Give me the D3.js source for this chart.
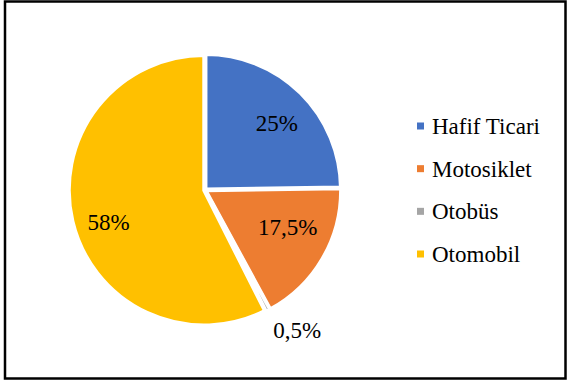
<!DOCTYPE html>
<html>
<head>
<meta charset="utf-8">
<script src="https://cdn.jsdelivr.net/npm/d3@7"></script>
<style>
  body { margin: 0; background: #fff; }
</style>
</head>
<body>
<div id="chart"></div>
<script>
//-- Data --//
var categories = ["Hafif Ticari", "Motosiklet", "Otobüs", "Otomobil"];
var shares = [25, 17.5, 0.5, 58];
var shareLabels = ["25%", "17,5%", "0,5%", "58%"];
var colors = ["#4472C4", "#ED7D31", "#A5A5A5", "#FFC000"];

//-- Setup --//
var width = 567, height = 380;
var cx = 205, cy = 190, radius = 135;
var serif = "Liberation Serif";
// small shifts off the centroid, like the "best fit" label placement
var labelNudge = [[3, 3], [-2, -13], [18, -2], [-1, 9]];

var svg = d3.select("#chart").append("svg")
  .attr("width", width)
  .attr("height", height);

// outer frame
svg.append("rect")
  .attr("x", 5).attr("y", 1.5)
  .attr("width", 560.5).attr("height", 377)
  .attr("fill", "none")
  .attr("stroke", "#000")
  .attr("stroke-width", 2.5);

var data = categories.map(function(c, i) {
  return {name: c, value: shares[i], label: shareLabels[i], color: colors[i], idx: i};
});

var pie = d3.pie().sort(null).value(function(d) { return d.value; });
var arcs = pie(data);

var arc = d3.arc().innerRadius(0).outerRadius(radius);
var labelArc = d3.arc().innerRadius(98).outerRadius(98);
var outerLabelArc = d3.arc().innerRadius(160).outerRadius(160);

var g = svg.append("g")
  .attr("transform", "translate(" + cx + "," + cy + ")");

//-- Slices --//
g.selectAll("path.slice")
  .data(arcs)
  .enter().append("path")
  .attr("class", "slice")
  .attr("d", arc)
  .attr("transform", function(d) {
    var a = (d.startAngle + d.endAngle) / 2;
    return "translate(" + (Math.sin(a) * 1) + "," + (-Math.cos(a) * 1) + ")";
  })
  .attr("fill", function(d) { return d.data.color; })
  .attr("stroke", "#fff")
  .attr("stroke-width", 3.5)
  .attr("stroke-linejoin", "miter");

//-- Labels --//
g.selectAll("text.pct")
  .data(arcs)
  .enter().append("text")
  .attr("class", "pct")
  .attr("transform", function(d) {
    var p = (d.data.value < 2) ? outerLabelArc.centroid(d) : labelArc.centroid(d);
    var n = labelNudge[d.data.idx];
    return "translate(" + (p[0] + n[0]) + "," + (p[1] + n[1]) + ")";
  })
  .attr("text-anchor", "middle")
  .attr("dy", "0.35em")
  .attr("font-family", serif)
  .attr("font-size", 23)
  .attr("fill", "#000")
  .text(function(d) { return d.data.label; });

//-- Legend --//
var legendY = d3.scalePoint().domain(categories).range([126, 254]);

var legend = svg.append("g").selectAll("g")
  .data(data)
  .enter().append("g")
  .attr("transform", function(d) { return "translate(417," + legendY(d.name) + ")"; });

legend.append("rect")
  .attr("x", 0).attr("y", -3.5)
  .attr("width", 7).attr("height", 7)
  .attr("fill", function(d) { return d.color; });

legend.append("text")
  .attr("x", 15)
  .attr("dy", "0.35em")
  .attr("font-family", serif)
  .attr("font-size", 23)
  .attr("fill", "#000")
  .text(function(d) { return d.name; });
</script>
</body>
</html>
